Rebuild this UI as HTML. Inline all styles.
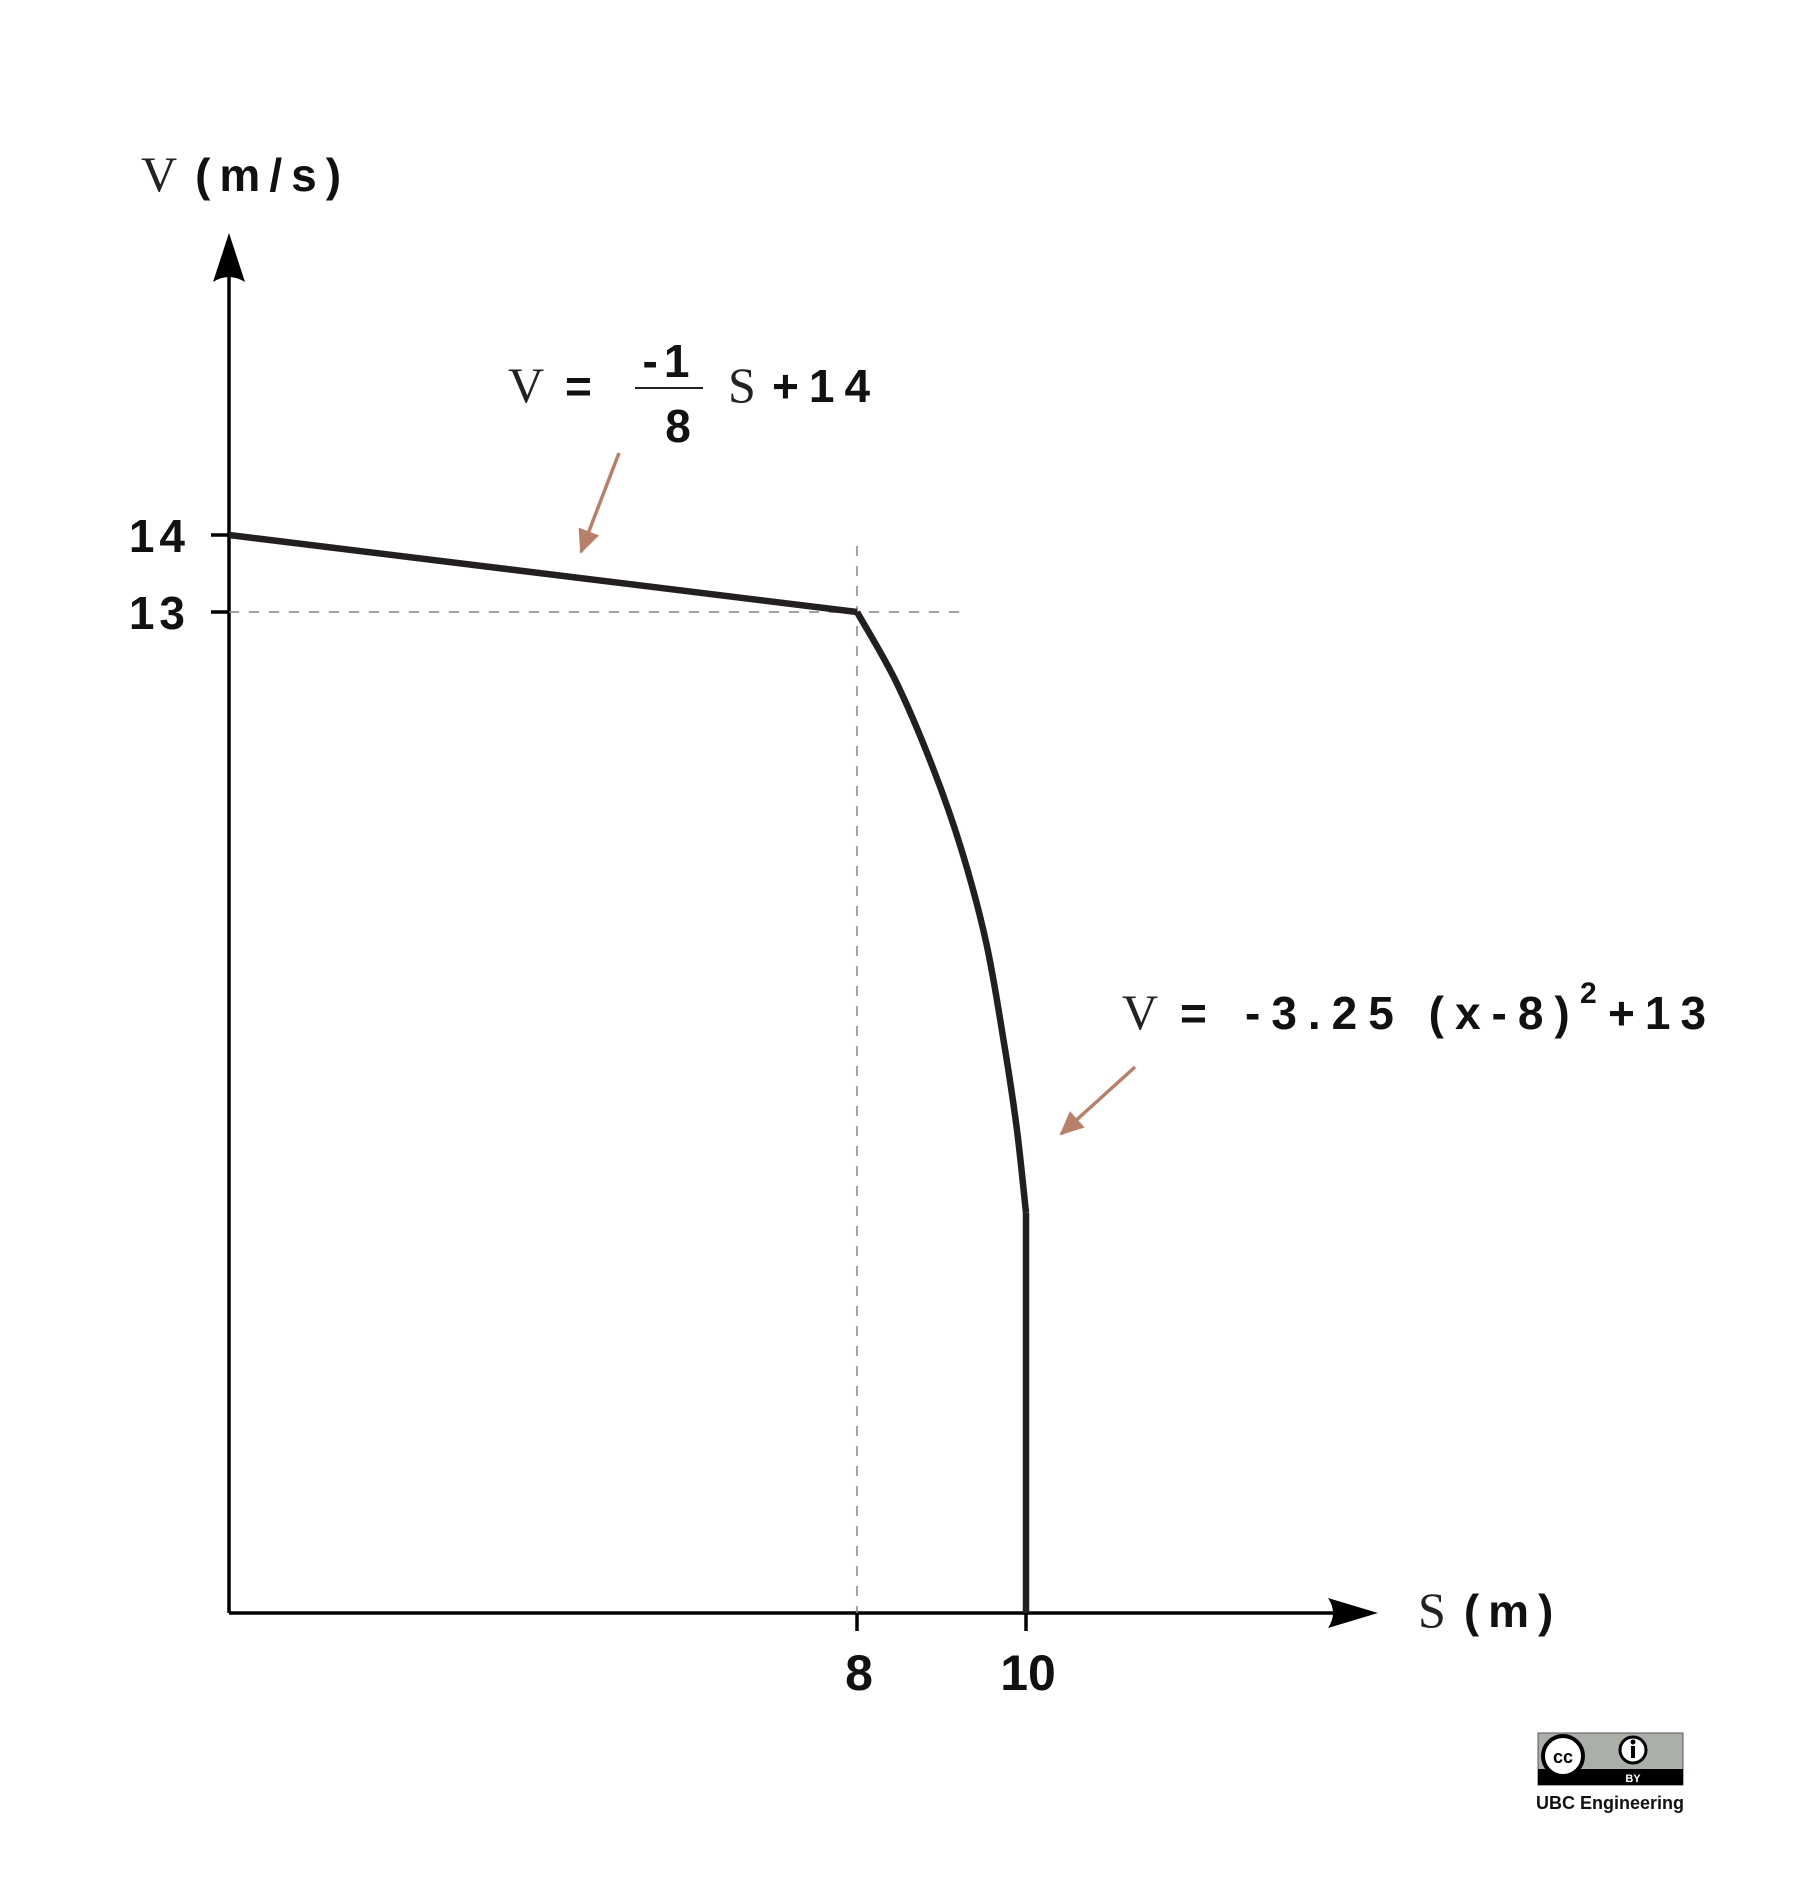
<!DOCTYPE html>
<html><head><meta charset="utf-8"><style>
html,body{margin:0;padding:0;background:#fff;}
svg{display:block;}
.sans{font-family:"Liberation Sans",sans-serif;font-weight:bold;fill:#111;}
.serif{font-family:"Liberation Serif",serif;fill:#222;}
</style></head><body>
<svg id="chart" width="1813" height="1901" viewBox="0 0 1813 1901" xmlns="http://www.w3.org/2000/svg">
<defs>
<marker id="brownHead" markerWidth="24" markerHeight="22" refX="22" refY="11" orient="auto" markerUnits="userSpaceOnUse" viewBox="0 0 24 22"><path d="M0,0 L24,11 L0,22 z" fill="#b88068"/></marker>
</defs>
<g id="axes"></g>
<g id="marks"></g>
<g id="labels">
  <text x="141" y="191"><tspan class="serif" font-size="50">V</tspan><tspan class="sans" font-size="46" letter-spacing="9" dx="18">(m/s)</tspan></text>
  <text x="1418" y="1627"><tspan class="serif" font-size="50">S</tspan><tspan class="sans" font-size="46" letter-spacing="9" dx="18">(m)</tspan></text>
  <g>
    <text x="508" y="402" class="serif" font-size="50">V</text>
    <text x="565" y="402" class="sans" font-size="46">=</text>
    <text x="669" y="377" class="sans" font-size="46" text-anchor="middle" letter-spacing="6">-1</text>
    <line x1="635" y1="388" x2="703" y2="388" stroke="#222" stroke-width="2"/>
    <text x="678" y="442" class="sans" font-size="46" text-anchor="middle">8</text>
    <text x="728" y="402" class="serif" font-size="50">S</text>
    <text x="772" y="402" class="sans" font-size="46" letter-spacing="10">+14</text>
  </g>
  <g>
    <text x="1122" y="1029" class="serif" font-size="50">V</text>
    <text x="1180" y="1029" class="sans" font-size="46">=</text>
    <text x="1245" y="1029" class="sans" font-size="46" letter-spacing="11">-3.25 (x-8)</text>
    <text x="1580" y="1003" class="sans" font-size="30">2</text>
    <text x="1608" y="1029" class="sans" font-size="46" letter-spacing="10">+13</text>
  </g>
  <line x1="619" y1="453" x2="581" y2="552" stroke="#b88068" stroke-width="3.5" marker-end="url(#brownHead)"/>
  <line x1="1135" y1="1067" x2="1061" y2="1134" stroke="#b88068" stroke-width="3.5" marker-end="url(#brownHead)"/>
  <g>
    <rect x="1538" y="1733" width="145" height="52" fill="#aab0a8" stroke="#555" stroke-width="1"/>
    <rect x="1538" y="1769" width="145" height="16" fill="#000"/>
    <circle cx="1563" cy="1756" r="20" fill="#fff" stroke="#000" stroke-width="4"/>
    <text x="1563" y="1763" font-family="Liberation Sans,sans-serif" font-weight="bold" font-size="18" text-anchor="middle">cc</text>
    <circle cx="1633" cy="1750" r="13" fill="#fff" stroke="#000" stroke-width="3"/>
    <rect x="1631" y="1746" width="4" height="12" fill="#000"/><circle cx="1633" cy="1742" r="2.5" fill="#000"/>
    <text x="1633" y="1782" font-family="Liberation Sans,sans-serif" font-weight="bold" font-size="11" fill="#fff" text-anchor="middle">BY</text>
  </g>
  <text x="1610" y="1809" font-family="Liberation Sans,sans-serif" font-weight="bold" font-size="18" fill="#111" text-anchor="middle">UBC Engineering</text>
</g>
</svg>
<script>
const linearS = [0, 8];
const linearV = [14, 13];
const curveS = [8, 8.46, 8.89, 9.24, 9.53, 9.74, 9.89, 10];
const curveV = [13, 12.1, 11.0, 9.9, 8.7, 7.4, 6.3, 5.2];
const dropS = [10, 10];
const dropV = [5.2, 0];
const yTicks = [14, 13];
const yTickLabels = ["14", "13"];
const xTicks = [8, 10];
const xTickLabels = ["8", "10"];
const guideS = 8;
const guideV = 13;

const xDom = [0, 8, 10], xRng = [229, 857, 1026];
function xScale(s){
  if (s <= xDom[1]) return xRng[0] + (s - xDom[0]) / (xDom[1] - xDom[0]) * (xRng[1] - xRng[0]);
  return xRng[1] + (s - xDom[1]) / (xDom[2] - xDom[1]) * (xRng[2] - xRng[1]);
}
function yScale(v){ return 1613 - v * (1613 - 535) / 14; }

const NS = "http://www.w3.org/2000/svg";
const axes = document.getElementById('axes');
const marks = document.getElementById('marks');
function mk(tag, attrs, parent){
  const e = document.createElementNS(NS, tag);
  for (const k in attrs) e.setAttribute(k, attrs[k]);
  parent.appendChild(e);
  return e;
}
const hg = mk('line', {x1: xScale(0), y1: yScale(guideV), x2: 961, y2: yScale(guideV), stroke: '#7a8a8a', 'stroke-width': 1.5, 'stroke-dasharray': '10 10'}, marks);


const vg = mk('line', {x1: xScale(guideS), y1: 546, x2: xScale(guideS), y2: yScale(0), stroke: '#7a8a8a', 'stroke-width': 1.5, 'stroke-dasharray': '10 10'}, marks);


const ya = mk('line', {x1: 229, y1: yScale(0), x2: 229, y2: 270, stroke: '#000', 'stroke-width': 3.5}, axes);


const yh = mk('path', {d: 'M229,233 L245,282 Q229,272 213,282 Z', fill: '#000'}, axes);


const xa = mk('line', {x1: 229, y1: yScale(0), x2: 1340, y2: yScale(0), stroke: '#000', 'stroke-width': 3.5}, axes);


const xh = mk('path', {d: 'M1378,1613 L1328,1598 Q1338,1613 1328,1628 Z', fill: '#000'}, axes);


yTicks.forEach((v, i) => {
  const t = mk('line', {x1: 211, y1: yScale(v), x2: 229, y2: yScale(v), stroke: '#000', 'stroke-width': 3.5}, axes);
  
  
  const l = mk('text', {x: 190, y: yScale(v) + 17, 'text-anchor': 'end', class: 'sans', 'font-size': 46, 'letter-spacing': 5}, axes);
  l.textContent = yTickLabels[i];
  
  
});
xTicks.forEach((s, i) => {
  const t = mk('line', {x1: xScale(s), y1: yScale(0), x2: xScale(s), y2: yScale(0) + 18, stroke: '#000', 'stroke-width': 3.5}, axes);
  
  
  const l = mk('text', {x: xScale(s) + 2, y: 1690, 'text-anchor': 'middle', class: 'sans', 'font-size': 50}, axes);
  l.textContent = xTickLabels[i];
  
  
});
function pts(S, V){ return S.map((s, i) => xScale(s) + ',' + yScale(V[i])).join(' '); }
const p1 = mk('polyline', {points: pts(linearS, linearV), fill: 'none', stroke: '#231f20', 'stroke-width': 6.5, 'stroke-linejoin': 'round'}, marks);


const cp = curveS.map((s, i) => [xScale(s), yScale(curveV[i])]);
let d = 'M' + cp[0][0] + ',' + cp[0][1];
for (let i = 0; i < cp.length - 1; i++) {
  const p0 = cp[Math.max(0, i - 1)], a = cp[i], b = cp[i + 1], p3 = cp[Math.min(cp.length - 1, i + 2)];
  const c1 = [a[0] + (b[0] - p0[0]) / 6, a[1] + (b[1] - p0[1]) / 6];
  const c2 = [b[0] - (p3[0] - a[0]) / 6, b[1] - (p3[1] - a[1]) / 6];
  d += ' C' + c1[0] + ',' + c1[1] + ' ' + c2[0] + ',' + c2[1] + ' ' + b[0] + ',' + b[1];
}
const p2 = mk('path', {d: d, fill: 'none', stroke: '#231f20', 'stroke-width': 6.5, 'stroke-linejoin': 'round'}, marks);


const p3 = mk('polyline', {points: pts(dropS, dropV), fill: 'none', stroke: '#231f20', 'stroke-width': 6.5}, marks);


</script>
</body></html>
